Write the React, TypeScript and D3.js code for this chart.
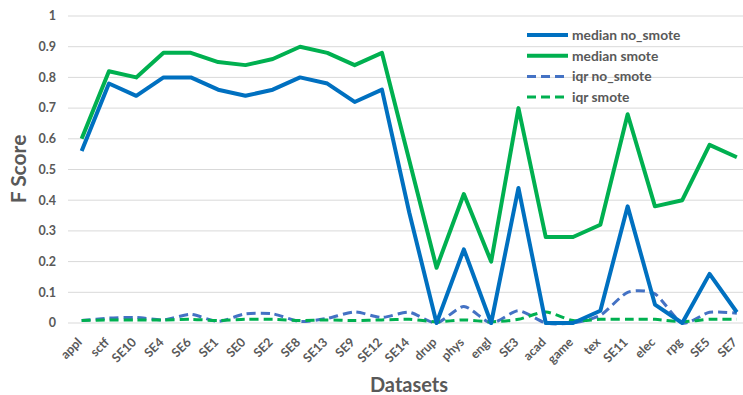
import React from "react";
import * as d3 from "d3";

const categories = ["appl","sctf","SE10","SE4","SE6","SE1","SE0","SE2","SE8","SE13","SE9","SE12","SE14","drup","phys","engl","SE3","acad","game","tex","SE11","elec","rpg","SE5","SE7"];
const medianNoSmote = [0.56,0.78,0.74,0.80,0.80,0.76,0.74,0.76,0.80,0.78,0.72,0.76,0.36,0,0.24,0,0.44,0,0,0.04,0.38,0.06,0,0.16,0.035];
const medianSmote = [0.60,0.82,0.80,0.88,0.88,0.85,0.84,0.86,0.90,0.88,0.84,0.88,0.53,0.18,0.42,0.20,0.70,0.28,0.28,0.32,0.68,0.38,0.40,0.58,0.54];
const iqrNoSmote = [0.008,0.016,0.018,0.01,0.028,0.005,0.03,0.03,0.005,0.015,0.036,0.018,0.035,0,0.054,0,0.04,0,0,0.025,0.1,0.095,0,0.035,0.032];
const iqrSmote = [0.008,0.01,0.01,0.01,0.012,0.008,0.012,0.012,0.008,0.01,0.008,0.01,0.012,0.004,0.01,0.004,0.012,0.036,0.008,0.012,0.012,0.012,0.004,0.012,0.012];
const yTicks = [0,0.1,0.2,0.3,0.4,0.5,0.6,0.7,0.8,0.9,1];
const tickLabels = ["0","0.1","0.2","0.3","0.4","0.5","0.6","0.7","0.8","0.9","1"];

const seriesList = [
  { name: "median no_smote", values: medianNoSmote, color: "#0070C0", width: 4, dash: null, smooth: false },
  { name: "median smote", values: medianSmote, color: "#00B050", width: 4, dash: null, smooth: false },
  { name: "iqr no_smote", values: iqrNoSmote, color: "#4472C4", width: 3, dash: "9,5", smooth: true },
  { name: "iqr smote", values: iqrSmote, color: "#00B050", width: 3, dash: "9,5", smooth: true },
];

const W = 743, H = 395;
const font = "Lato, 'Open Sans', sans-serif";

export default function App() {
  const plotLeft = 68;
  const step = 27.3;
  const x = d3.scaleBand<string>().domain(categories).range([plotLeft, plotLeft + step * categories.length]).padding(0);
  const cx = (c: string) => (x(c) as number) + x.bandwidth() / 2;
  const y = d3.scaleLinear().domain([0, 1]).range([323, 16]);

  const order = [2, 3, 0, 1];
  return (
    <div style={{ position: "fixed", left: 0, top: 0 }}>
      <svg width={W} height={H} style={{ display: "block", background: "#fff" }}>
        {yTicks.map((t, i) => (
          <g key={i}>
            <line x1={plotLeft} x2={W} y1={y(t)} y2={y(t)} stroke="#d9d9d9" strokeWidth={1} />
            <text x={56} y={y(t)} dy="0.35em" textAnchor="end" fontFamily={font} fontWeight={700} fontSize={12.5} fill="#595959">{tickLabels[i]}</text>
          </g>
        ))}
        {order.map((si) => {
          const s = seriesList[si];
          const line = d3.line<number>()
            .x((_, i) => cx(categories[i]))
            .y((v) => y(v))
            .curve(s.smooth ? d3.curveCardinal.tension(0.3) : d3.curveLinear);
          return (
            <path key={s.name} d={line(s.values) || ""} fill="none" stroke={s.color} strokeWidth={s.width}
              strokeDasharray={s.dash || undefined} strokeLinejoin="round" />
          );
        })}
        {categories.map((c) => (
          <text key={c} transform={`translate(${cx(c) + 1},${343}) rotate(-45)`} textAnchor="end"
            fontFamily={font} fontWeight={700} fontSize={12.5} fill="#595959">{c}</text>
        ))}
        <text transform={`translate(26,169) rotate(-90)`} textAnchor="middle" fontFamily={font} fontWeight={700} fontSize={21} fill="#595959">F Score</text>
        <text x={409} y={392} textAnchor="middle" fontFamily={font} fontWeight={700} fontSize={20} fill="#595959">Datasets</text>
        {seriesList.map((s, i) => {
          const ly = 35 + i * 20.7;
          return (
            <g key={s.name}>
              <line x1={527} x2={568} y1={ly} y2={ly} stroke={s.color} strokeWidth={s.width} strokeDasharray={s.dash || undefined} />
              <text x={572} y={ly} dy="0.35em" fontFamily={font} fontWeight={700} fontSize={13.8} fill="#595959">{s.name}</text>
            </g>
          );
        })}
      </svg>
    </div>
  );
}
